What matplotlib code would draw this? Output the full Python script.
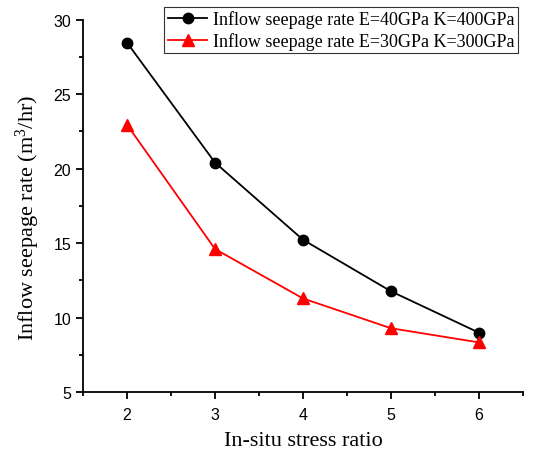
import matplotlib
matplotlib.use("Agg")
import matplotlib.pyplot as plt
from matplotlib.ticker import MultipleLocator

plt.rcParams["mathtext.fontset"] = "custom"
plt.rcParams["mathtext.rm"] = "Liberation Serif"
plt.rcParams["mathtext.it"] = "Liberation Serif:italic"

x = [2, 3, 4, 5, 6]
black_vals = [28.45, 20.4, 15.22, 11.76, 8.98]
red_vals = [22.94, 14.6, 11.28, 9.28, 8.33]
label_black = "Inflow seepage rate E=40GPa K=400GPa"
label_red = "Inflow seepage rate E=30GPa K=300GPa"

fig = plt.figure(figsize=(5.41, 4.52), dpi=100)
ax = fig.add_axes([0.1534, 0.1305, 0.8133, 0.8241])

ax.plot(x, black_vals, color="black", marker="o", markersize=7.5, linewidth=1.3, label=label_black)
ax.plot(x, red_vals, color="#ff0000", marker="^", markersize=8.5, linewidth=1.3, label=label_red)

ax.set_xlim(1.5, 6.5)
ax.set_ylim(5, 30)
ax.xaxis.set_major_locator(MultipleLocator(1))
ax.xaxis.set_minor_locator(MultipleLocator(0.5))
ax.yaxis.set_major_locator(MultipleLocator(5))
ax.yaxis.set_minor_locator(MultipleLocator(2.5))
ax.spines["top"].set_visible(False)
ax.spines["right"].set_visible(False)
for s in ("left", "bottom"):
    ax.spines[s].set_linewidth(1.3)
ax.tick_params(which="major", direction="out", length=5, width=1.3, labelsize=11.5)
ax.tick_params(axis="x", which="major", pad=6)
ax.tick_params(which="minor", direction="out", length=3, width=1.3)
for lab in ax.get_xticklabels() + ax.get_yticklabels():
    lab.set_fontfamily("Liberation Sans")

ax.set_xlabel("In-situ stress ratio", fontfamily="Liberation Serif", fontsize=16, labelpad=6)
ax.set_ylabel("Inflow seepage rate (m$^\\mathrm{3}$/hr)", fontfamily="Liberation Serif", fontsize=16)
ax.yaxis.set_label_coords(-0.093, 0.47)

leg = ax.legend(loc="upper right", bbox_to_anchor=(0.9886, 1.034), prop={"family": "Liberation Serif", "size": 13},
                frameon=True, fancybox=False, edgecolor="black", borderpad=0.2, labelspacing=0.2,
                handlelength=2.2, handletextpad=0.3, borderaxespad=0.0)
leg.get_frame().set_linewidth(0.8)

fig.savefig("out.png", dpi=100)
